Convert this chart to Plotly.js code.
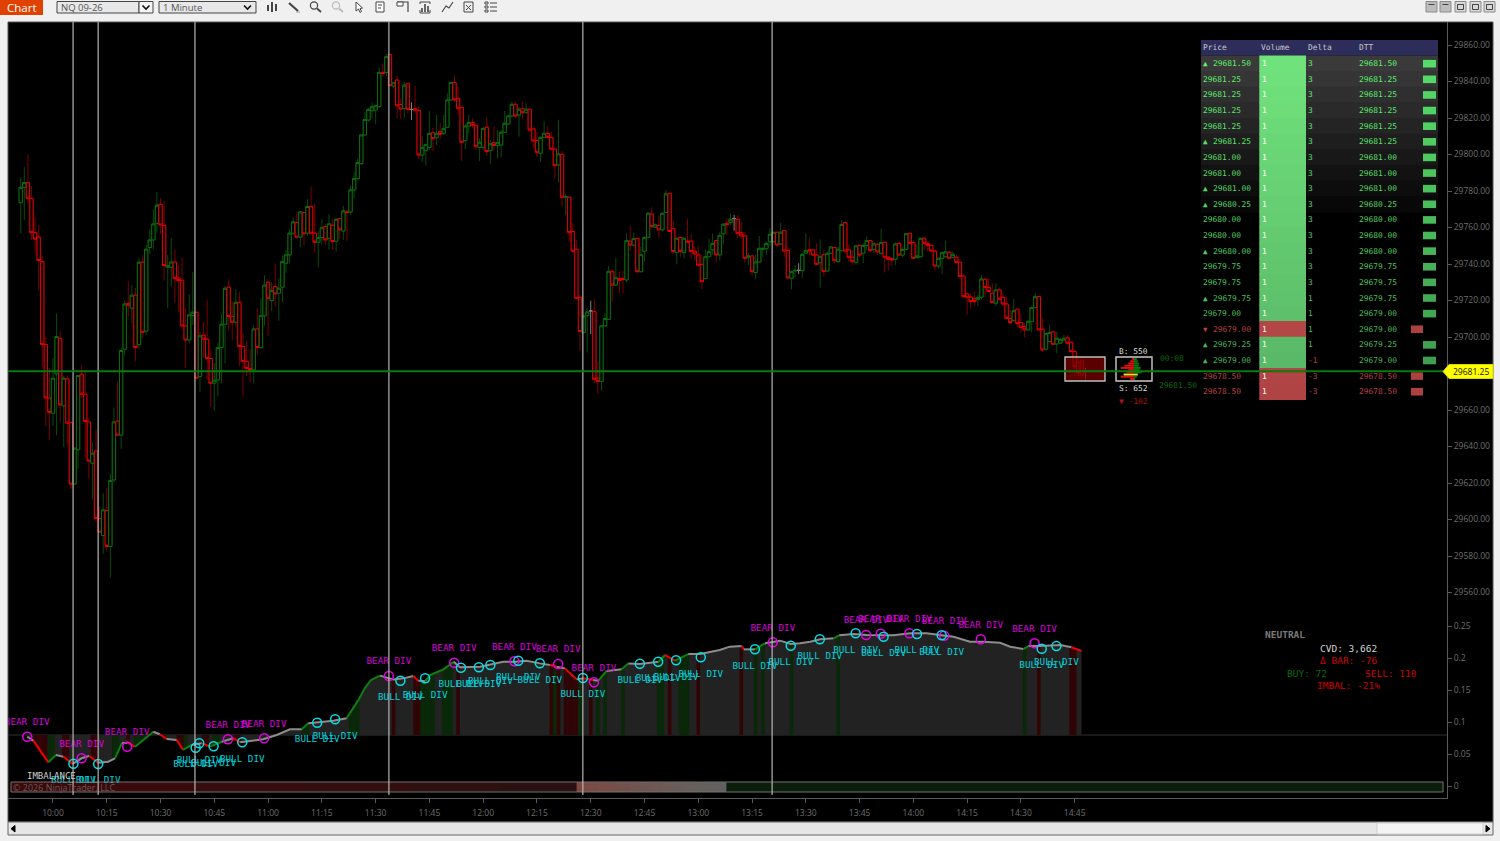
<!DOCTYPE html>
<html><head><meta charset="utf-8">
<script src="https://cdn.plot.ly/plotly-3.0.1.min.js"></script>
<style>html,body{margin:0;padding:0;background:#f0f0f0;overflow:hidden}#c{width:1500px;height:841px}</style>
</head><body><div id="c"></div>
<script>
// ---------- price bars: one row of ten per line ----------
const bar_first_minute = 591; // 09:51
const bar_open = [29773.6,29782.0,29784.6,29776.0,29757.2,29754.7,29741.3,29695.9,29666.5,29658.2,
29679.8,29699.3,29662.3,29677.1,29653.1,29619.4,29638.2,29679.6,29668.7,29653.5,
29630.9,29637.6,29600.5,29591.2,29604.9,29585.2,29621.7,29653.9,29646.2,29693.3,
29718.5,29715.8,29722.9,29695.9,29741.0,29703.2,29749.0,29753.2,29762.3,29772.7,
29761.2,29738.2,29738.2,29741.1,29732.4,29731.1,29706.1,29698.4,29711.7,29713.6,
29678.3,29701.0,29698.8,29688.2,29674.7,29676.5,29694.2,29707.0,29727.3,29711.2,
29708.1,29719.0,29694.8,29686.7,29682.7,29682.0,29704.4,29694.2,29711.6,29730.0,
29720.0,29727.6,29724.0,29727.3,29740.4,29745.0,29756.9,29762.7,29754.7,29768.2,
29756.9,29771.5,29756.9,29751.9,29754.5,29760.5,29754.1,29761.2,29752.5,29764.9,
29758.1,29768.5,29768.5,29780.6,29786.8,29795.1,29810.7,29818.9,29824.0,29824.4,
29826.2,29845.0,29845.0,29854.7,29837.5,29840.8,29827.4,29825.3,29838.8,29824.7,
29825.1,29824.2,29799.7,29802.1,29803.9,29812.0,29809.2,29812.5,29811.6,29814.9,
29829.9,29839.5,29830.8,29825.8,29807.6,29815.6,29817.6,29816.0,29803.9,29803.9,
29814.9,29802.1,29806.5,29804.9,29805.2,29812.2,29816.7,29821.1,29827.5,29821.7,
29825.1,29822.9,29824.8,29814.0,29807.6,29800.7,29809.4,29811.6,29809.4,29802.9,
29794.3,29800.1,29776.5,29776.6,29757.8,29748.1,29721.8,29702.4,29711.7,29714.3,
29713.9,29677.4,29675.6,29706.1,29709.7,29736.0,29728.4,29732.0,29732.0,29731.3,
29752.5,29750.4,29754.1,29735.8,29747.0,29754.6,29767.4,29760.1,29761.2,29758.7,
29768.2,29778.7,29759.4,29746.2,29754.5,29746.2,29752.5,29752.5,29747.0,29745.0,
29739.8,29732.0,29744.0,29747.7,29752.8,29745.0,29756.5,29762.3,29762.7,29764.9,
29764.5,29757.2,29755.4,29743.7,29744.4,29735.3,29741.1,29748.0,29748.4,29752.2,
29752.2,29757.4,29751.0,29758.3,29747.5,29732.2,29736.2,29736.5,29736.4,29745.9,
29747.7,29747.7,29744.9,29740.7,29745.1,29736.2,29745.9,29749.0,29741.3,29747.3,
29762.7,29747.7,29743.7,29740.9,29750.2,29745.9,29750.2,29752.8,29748.0,29750.8,
29745.9,29751.9,29743.7,29743.0,29742.6,29751.3,29744.9,29748.0,29756.8,29751.7,
29743.5,29744.0,29754.1,29751.3,29750.2,29747.1,29738.9,29743.1,29744.0,29746.4,
29743.7,29743.7,29740.9,29733.4,29723.6,29721.8,29721.2,29720.7,29721.8,29731.6,
29727.2,29723.9,29718.5,29725.8,29721.8,29718.1,29710.2,29709.0,29715.2,29707.9,
29705.7,29703.9,29708.4,29716.1,29722.1,29704.2,29693.3,29697.5,29702.8,29696.2,
29696.6,29698.4,29699.5,29697.1,29692.0,29686.0,29686.9,29681.25];
const bar_high = [29787.5,29793.0,29800.0,29782.8,29765.6,29761.2,29744.8,29699.9,29682.9,29688.4,
29713.0,29703.2,29678.7,29678.9,29653.7,29639.1,29678.9,29684.5,29682.0,29655.7,
29642.2,29649.1,29607.0,29614.4,29617.2,29625.0,29661.3,29675.6,29693.9,29720.0,
29730.9,29728.5,29726.9,29743.2,29744.8,29750.5,29759.0,29770.0,29779.5,29776.0,
29774.6,29745.0,29754.1,29747.7,29739.5,29743.5,29715.6,29723.6,29735.7,29713.6,
29702.6,29708.3,29720.3,29692.9,29685.6,29697.0,29712.7,29728.0,29731.6,29719.4,
29726.2,29724.7,29702.4,29697.7,29693.3,29706.3,29715.4,29721.2,29733.7,29730.7,
29730.0,29740.4,29732.2,29744.6,29747.7,29759.0,29765.2,29768.5,29768.9,29768.5,
29775.5,29782.4,29772.9,29757.8,29764.5,29762.0,29767.3,29764.9,29765.1,29765.1,
29771.8,29769.6,29782.8,29790.6,29797.9,29811.0,29823.4,29825.5,29828.6,29827.1,
29847.7,29849.9,29855.0,29854.7,29839.3,29843.0,29830.7,29839.9,29839.0,29828.6,
29837.5,29826.6,29810.1,29806.0,29823.8,29814.7,29821.7,29817.5,29821.7,29833.5,
29839.9,29843.2,29837.2,29825.8,29816.7,29821.7,29819.8,29816.7,29808.9,29815.3,
29820.4,29808.0,29815.3,29813.4,29813.4,29823.8,29821.7,29829.0,29829.0,29826.2,
29829.0,29828.0,29825.3,29815.3,29812.2,29809.8,29818.4,29815.6,29812.5,29803.4,
29818.9,29801.9,29778.4,29776.6,29762.3,29753.2,29723.1,29711.5,29715.7,29719.9,
29720.7,29686.5,29706.6,29713.0,29738.9,29736.4,29743.1,29735.8,29736.2,29756.8,
29760.8,29757.2,29754.1,29749.5,29755.0,29768.2,29771.1,29762.3,29766.5,29768.2,
29780.6,29778.7,29763.8,29754.1,29755.0,29754.5,29764.7,29756.5,29749.5,29750.1,
29745.0,29748.1,29754.1,29756.8,29753.5,29757.2,29762.3,29765.0,29767.8,29766.9,
29766.9,29763.2,29757.7,29745.9,29745.0,29745.0,29755.3,29748.6,29752.2,29759.5,
29757.4,29757.7,29762.6,29758.3,29749.1,29736.4,29739.5,29740.4,29745.9,29756.8,
29754.1,29748.0,29751.3,29753.5,29747.7,29746.8,29749.9,29749.5,29749.5,29764.1,
29762.7,29750.4,29747.7,29750.4,29750.8,29751.3,29755.0,29753.2,29752.2,29751.7,
29759.2,29751.9,29744.4,29743.7,29751.7,29751.9,29749.5,29757.2,29757.2,29752.8,
29751.0,29754.4,29754.6,29752.8,29750.8,29747.7,29743.7,29746.8,29752.8,29747.3,
29746.8,29744.9,29742.2,29734.0,29724.3,29723.9,29724.8,29723.0,29734.0,29732.7,
29732.2,29729.4,29729.4,29727.2,29723.9,29722.1,29714.8,29720.7,29715.2,29712.1,
29707.9,29709.0,29716.6,29723.9,29722.7,29710.2,29702.4,29706.6,29703.3,29702.9,
29699.3,29701.1,29701.1,29697.5,29692.5,29687.4,29687.8,29683.0];
const bar_low = [29756.8,29764.2,29772.9,29753.2,29745.9,29725.8,29683.8,29651.3,29643.6,29651.3,
29646.2,29653.5,29639.6,29640.9,29616.6,29619.4,29627.8,29666.5,29633.6,29622.5,
29611.1,29598.9,29593.1,29581.2,29582.5,29568.2,29620.3,29646.2,29638.7,29689.8,
29711.2,29707.5,29686.7,29693.5,29699.7,29701.2,29745.5,29748.1,29757.2,29756.5,
29730.9,29715.8,29727.6,29718.9,29713.9,29705.4,29683.3,29696.6,29706.6,29677.4,
29669.8,29688.4,29676.5,29661.5,29659.7,29667.4,29674.7,29685.6,29703.9,29698.1,
29705.7,29684.2,29667.4,29678.7,29674.7,29674.7,29690.7,29693.7,29706.3,29700.6,
29714.1,29716.7,29709.0,29718.9,29735.3,29740.4,29756.0,29753.9,29749.2,29749.9,
29755.4,29756.0,29746.3,29738.2,29750.8,29750.5,29748.1,29747.7,29746.8,29753.7,
29753.2,29752.8,29766.9,29776.0,29786.1,29794.2,29810.7,29818.0,29819.8,29816.7,
29825.8,29842.6,29843.0,29837.7,29836.2,29819.8,29819.2,29820.2,29822.5,29818.9,
29822.6,29797.5,29796.1,29793.9,29802.5,29801.9,29805.2,29808.3,29810.7,29814.7,
29829.5,29829.0,29821.7,29796.5,29802.9,29811.6,29814.3,29802.5,29796.5,29802.5,
29799.2,29794.8,29802.1,29797.9,29798.5,29812.0,29816.2,29820.4,29819.8,29809.8,
29819.5,29822.6,29812.5,29803.4,29798.5,29795.7,29808.9,29808.9,29802.5,29786.6,
29784.6,29771.4,29766.9,29752.3,29746.2,29721.2,29692.4,29702.4,29691.5,29701.7,
29674.7,29668.8,29670.5,29705.7,29709.3,29719.4,29728.0,29723.9,29723.9,29729.8,
29747.3,29749.5,29734.9,29735.3,29741.3,29754.1,29759.9,29759.6,29754.5,29757.8,
29767.8,29757.8,29745.5,29739.8,29743.7,29743.1,29751.7,29743.1,29741.9,29738.9,
29726.3,29731.6,29743.7,29745.0,29741.0,29741.9,29751.0,29756.3,29761.4,29758.3,
29754.1,29754.1,29740.7,29739.5,29733.4,29731.6,29740.7,29743.7,29744.9,29749.5,
29751.3,29749.0,29750.4,29744.0,29731.6,29726.1,29732.7,29734.5,29732.4,29745.9,
29744.9,29744.4,29739.5,29727.0,29733.1,29735.8,29745.5,29740.7,29740.7,29746.8,
29746.8,29741.3,29739.5,29739.5,29743.7,29740.4,29747.7,29746.8,29745.9,29744.9,
29744.9,29735.4,29736.4,29738.9,29739.5,29744.4,29743.7,29747.7,29751.0,29742.6,
29743.1,29743.7,29747.3,29746.8,29746.8,29736.4,29737.6,29734.5,29743.7,29742.6,
29743.1,29740.4,29732.7,29721.8,29712.1,29715.7,29717.0,29717.0,29720.7,29721.8,
29724.3,29718.5,29717.0,29720.3,29717.0,29709.7,29707.1,29708.4,29705.3,29702.4,
29699.8,29703.5,29702.4,29715.7,29703.5,29691.8,29692.5,29696.9,29695.6,29691.1,
29696.2,29697.5,29696.2,29691.4,29678.7,29678.3,29676.8,29676.7];
const bar_close = [29782.0,29784.6,29776.0,29757.2,29753.6,29741.9,29695.9,29666.6,29658.6,29677.4,
29700.2,29662.8,29677.4,29652.8,29619.4,29639.1,29678.9,29668.7,29653.7,29632.0,
29636.3,29600.5,29593.1,29605.3,29585.2,29621.4,29653.5,29646.2,29692.6,29718.1,
29717.4,29722.9,29694.2,29741.0,29702.6,29748.1,29753.2,29762.0,29772.2,29761.4,
29739.1,29739.1,29741.1,29732.0,29730.9,29706.1,29698.4,29712.1,29713.6,29677.4,
29700.6,29698.8,29688.2,29674.7,29676.3,29694.2,29707.0,29726.7,29711.2,29708.1,
29719.0,29694.8,29686.7,29682.7,29682.0,29704.4,29694.2,29711.7,29728.4,29721.2,
29725.4,29723.6,29726.7,29741.3,29745.0,29756.9,29763.1,29754.7,29768.5,29756.5,
29771.5,29756.9,29751.9,29754.5,29759.9,29753.2,29762.0,29752.3,29764.5,29758.7,
29769.1,29768.2,29780.6,29786.8,29795.6,29810.7,29819.2,29824.7,29826.2,29826.7,
29845.0,29844.4,29853.6,29837.7,29839.3,29826.7,29824.9,29838.0,29824.7,29824.7,
29824.4,29799.7,29803.9,29805.4,29811.6,29808.7,29811.6,29811.0,29814.3,29829.9,
29839.5,29829.9,29825.3,29806.7,29815.6,29817.5,29816.0,29804.3,29806.7,29814.3,
29801.6,29805.8,29804.9,29806.5,29812.2,29817.1,29821.1,29827.5,29821.1,29824.8,
29822.9,29824.8,29813.4,29807.4,29801.2,29809.4,29811.6,29809.4,29802.9,29793.9,
29800.3,29776.6,29776.9,29757.2,29747.0,29721.2,29703.0,29711.5,29713.7,29714.3,
29676.8,29675.6,29706.1,29710.1,29736.0,29728.5,29732.5,29730.9,29731.5,29752.8,
29750.4,29753.9,29735.8,29745.1,29754.6,29767.8,29760.5,29761.4,29758.7,29767.8,
29778.4,29757.8,29746.8,29754.1,29746.9,29754.1,29752.1,29746.8,29745.5,29739.3,
29730.3,29744.0,29746.8,29751.3,29745.0,29755.7,29761.8,29761.6,29764.5,29764.9,
29756.8,29755.4,29743.1,29744.4,29735.8,29741.1,29748.6,29748.6,29751.3,29756.3,
29757.4,29750.4,29757.4,29747.1,29732.4,29735.8,29736.5,29736.5,29745.3,29747.3,
29747.3,29744.9,29739.8,29744.0,29735.8,29745.9,29749.3,29741.8,29748.1,29761.7,
29747.1,29743.7,29741.3,29749.9,29744.9,29750.2,29752.8,29747.3,29751.0,29746.6,
29751.7,29743.7,29742.6,29742.2,29751.0,29744.9,29748.0,29756.6,29751.3,29743.1,
29744.4,29754.1,29751.3,29750.2,29747.1,29738.9,29743.1,29746.2,29746.6,29743.1,
29745.3,29740.9,29733.1,29722.1,29721.8,29719.4,29719.4,29721.6,29731.8,29727.2,
29724.9,29718.8,29725.8,29720.7,29718.1,29710.2,29707.9,29714.4,29707.5,29705.3,
29703.9,29708.6,29716.1,29722.1,29703.9,29692.9,29702.0,29702.4,29696.0,29699.3,
29698.7,29699.3,29696.6,29692.0,29683.8,29680.1,29679.2,29681.25];
const price_ticks = [29560,29580,29600,29620,29640,29660,29700,29720,29740,29760,29780,29800,29820,29840,29860];
const last_price = 29681.25;
const time_ticks = [600,615,630,645,660,675,690,705,720,735,750,765,780,795,810,825,840,855,870,885];
const time_labels = ['10:00','10:15','10:30','10:45','11:00','11:15','11:30','11:45','12:00','12:15','12:30','12:45','13:00','13:15','13:30','13:45','14:00','14:15','14:30','14:45'];
const marker_minutes = [605.6,612.6,639.6,693.7,747.8,800.6];

// ---------- lower panel ----------
const panel_ticks = [0,0.05,0.1,0.15,0.2,0.25];
const cvd_baseline = 0.0797;
const cvd_t = [592.8,594.5,598.7,600.8,602.9,605.5,608,610.1,612.6,615.4,617.3,619.2,620.8,622.9,628,629.8,631.7,634.5,636.3,638.7,641.5,643.8,647.1,650.3,652.2,658.7,662.4,666.1,669.4,671.2,678.2,681.9,685.2,687,688.7,691.2,694.9,697.7,700.5,701.9,703.8,705.2,708.9,711.8,713.5,719.1,721.9,725.6,728.9,732.1,735.8,738.6,740.5,742.8,746.1,747.9,750.7,752.1,754.4,758.6,760.5,763.7,768.9,770.7,773.5,777.2,780.5,786,788.8,792.1,792.7,795.8,798.6,800.7,802.8,805.8,808.4,811.2,814,817.7,819.3,823.3,827,830.7,834.4,839.1,843.7,847.4,851.2,855.8,859.5,864.2,867,870.7,872.1,875.3,881,884.1,886.9];
const cvd_v = [.0770,.0708,.0370,.0484,.0458,.0344,.0433,.0469,.0364,.0380,.0433,.0667,.0677,.0614,.0848,.0808,.0734,.0719,.0563,.0641,.0667,.0614,.0692,.0745,.0683,.0730,.0797,.0886,.0886,.0980,.1020,.1058,.1344,.153,.1656,.1724,.1666,.1682,.1718,.1645,.164,.1734,.1823,.1942,.1854,.1864,.1901,.1942,.1942,.1958,.1916,.189,.1864,.1838,.1666,.1682,.1656,.1645,.1797,.1823,.1916,.1906,.1942,.2047,.1958,.2062,.2062,.2125,.2177,.2187,.2135,.2135,.2229,.2255,.2271,.2219,.2229,.2255,.2292,.2307,.2354,.2375,.2359,.2354,.2354,.2385,.2385,.2359,.2333,.2255,.2255,.2239,.2177,.214,.2187,.2187,.2203,.2167,.2109];
const cvd_state = ('nrgnrnnrnngnrgnrnrgnrgnrnnnngnngggg'+'nnnrngggnnnnnnnnrnrnrngngnngrgnnn'+'nrngn'+'nnnnnng'+'nnnnnnnnnnnnn'+'gnnnrn').split('');
const stripe_t = [595,596,597,598,599,600,603,604,611,612,617,618,621,623,624,625,626,627,630,631,635,636,637,642,643,645,646,651,652,670,671,683,684,685,695,701,702,703,704,705,706,709,710,711,713,739,740,741,743,744,745,746,747,750,752,754,759,769,770,772,775,776,777,780,792,796,798,806,819,871,875,884,885];
const stripe_v = [.069,.058,.048,.040,.039,.044,.045,.040,.044,.038,.043,.055,.067,.062,.066,.071,.075,.080,.080,.075,.068,.058,.059,.066,.063,.065,.068,.072,.069,.092,.097,.112,.125,.134,.167,.168,.164,.164,.165,.172,.175,.183,.187,.191,.186,.188,.187,.186,.182,.176,.171,.167,.168,.166,.165,.178,.184,.195,.202,.2,.2,.203,.206,.206,.215,.214,.222,.222,.235,.216,.218,.216,.215];
const stripe_kind = ('rrrrgg'+'rr'+'rr'+'gg'+'r'+'ggggg'+'rr'+'rr'+'g'+'rr'+'gg'+'rr'+'gg'+'ggg'+'r'+'rr'+'ggg'+'g'+'ggg'+'r'+'r'+'g'+'r'+'rrrr'+'g'+'r'+'g'+'g'+'g'+'gg'+'r'+'ggg'+'r'+'r'+'g'+'g'+'g'+'g'+'g'+'r'+'rr').split('');
const bear_t = [592.8,608.0,620.7,648.8,658.9,693.7,711.9,728.7,740.9,750.9,800.8,826.8,830.9,838.9,848.6,858.8,873.8];
const bear_v = [.0770,.0433,.0614,.0730,.0745,.1719,.1927,.1948,.1906,.1620,.2245,.2359,.2380,.2386,.2348,.2292,.2230];
const bull_t = [605.7,612.6,639.8,640.8,644.8,652.8,673.7,678.7,696.9,703.8,713.8,718.8,722.0,729.8,735.8,747.8,763.7,768.8,773.8,780.7,795.8,805.8,813.9,823.9,831.7,841.0,847.9,875.8,879.9];
const bull_v = [.0348,.0344,.0598,.0667,.0620,.0683,.0989,.1042,.1645,.1683,.1848,.1855,.1891,.1958,.1917,.1688,.1911,.1942,.1964,.2011,.2136,.2192,.2292,.2386,.2333,.2375,.2355,.2145,.2188];
const heat_start = [588.3,615,640,670,700,725,746.2,749,752,755,758,761,764,767,770,773,776,779,782,785,788];
const heat_end =   [615,640,670,700,725,746.2,749,752,755,758,761,764,767,770,773,776,779,782,785,788,987.7];
const heat_color = ['#3e0808','#3a0a0a','#360c0c','#320e0e','#2e1010','#2a1010','#7c4a40','#7a4c42','#784e46','#765048','#74524c','#72544e','#705650','#6e5852','#6c5a55','#6a5c58','#685e5a','#66605c','#64605e','#626060','#0a1f0a'];

// ---------- time & sales tape ----------
const tape_dir = ['▲','','','','','▲','','','▲','▲','','','▲','','','▲','','▼','▲','▲','',''];
const tape_price = ['29681.50','29681.25','29681.25','29681.25','29681.25','29681.25','29681.00','29681.00','29681.00','29680.25','29680.00','29680.00','29680.00','29679.75','29679.75','29679.75','29679.00','29679.00','29679.25','29679.00','29678.50','29678.50'];
const tape_volume = [1,1,1,1,1,1,1,1,1,1,1,1,1,1,1,1,1,1,1,1,1,1];
const tape_delta = [3,3,3,3,3,3,3,3,3,3,3,3,3,3,3,1,1,1,1,-1,-3,-3];
const tape_dtt = ['29681.50','29681.25','29681.25','29681.25','29681.25','29681.25','29681.00','29681.00','29681.00','29680.25','29680.00','29680.00','29680.00','29679.75','29679.75','29679.75','29679.00','29679.00','29679.25','29679.00','29678.50','29678.50'];
const tape_side = [1,1,1,1,1,1,1,1,1,1,1,1,1,1,1,1,1,-1,1,1,-1,-1];
const tape_columns = ['Price','Volume','Delta','DTT'];
const row_shade = ['#3a3a3a','#353535','#2f2f2f','#2a2a2a','#242424','#1e1e1e','#181818','#121212','#0d0d0d','#080808'];

// ---------- footprint box ----------
const profile_row = [0,1,2,3,4,5,6,7,8,9];
const profile_sell = [-4,-14,-11,-8,-6,-14,-10,-6,-4,-2];
const profile_buy = [1,3,4,8,6,7,5,5,4,3];

// ---------- helpers ----------
const W=1500,Ht=841,px=x=>x/W,py=y=>1-y/Ht;
const MONO='"DejaVu Sans Mono",monospace',SANS='"Open Sans","Noto Sans",sans-serif';
const shapes=[],anns=[];
function rect(x0,y0,x1,y1,fill,line,layer,lw){shapes.push({type:'rect',xref:'paper',yref:'paper',x0:px(x0),x1:px(x1),y0:py(y1),y1:py(y0),fillcolor:fill||'rgba(0,0,0,0)',line:{color:line||'rgba(0,0,0,0)',width:line?(lw||1):0},layer:layer||'below'});}
function poly(pts,color,width,fill,layer,close){shapes.push({type:'path',xref:'paper',yref:'paper',path:pts.map((p,i)=>(i?'L':'M')+px(p[0])+','+py(p[1])).join(' ')+(close?' Z':''),line:{color:color,width:width||1},fillcolor:fill||'rgba(0,0,0,0)',layer:layer||'below'});}
function circ(cx,cy,r,color){shapes.push({type:'circle',xref:'paper',yref:'paper',x0:px(cx-r),x1:px(cx+r),y0:py(cy+r),y1:py(cy-r),line:{color:color,width:1.2},layer:'below'});}
function txt(x,y,t,color,size,anchor,family){anns.push({xref:'paper',yref:'paper',x:px(x),y:py(y),text:t,showarrow:false,xanchor:anchor||'left',yanchor:'middle',font:{color:color,size:size,family:family||MONO},borderpad:0,borderwidth:0});}
function mix(a,b,t){return 'rgb('+a.map((v,i)=>Math.round(v+(b[i]-v)*t)).join(',')+')';}

// ---------- window chrome ----------
rect(8,22,1493,822,'#000','#555');
rect(8,822,1493,835,'#e6e6e6','#666');
rect(1377,823,1483,834,'#f4f4f4','#d0d0d0');
poly([[15,825.5],[15,832],[11,828.7]],'#000',1,'#000','below',true);
poly([[1486,825.5],[1486,832],[1490,828.7]],'#000',1,'#000','below',true);
rect(0,0,43,15,'#e04000');
txt(22,7.5,'Chart','#ffffff',11.5,'center',SANS);
rect(57,1.5,139,13,'#e8e8e8','#444'); rect(139,1.5,153,13,'#f4f4f4','#444');
rect(159,1.5,256,13,'#e8e8e8','#444');
txt(61,7.5,'NQ 09-26','#555',9.5,'left',SANS); txt(163,7.5,'1 Minute','#555',9.5,'left',SANS);
poly([[142.5,5.5],[146,9],[149.5,5.5]],'#111',1.6); poly([[244,5.5],[247.5,9],[251,5.5]],'#111',1.6);
const ic='#444';
[[268,5,11],[272,2,12],[276,4,11]].forEach(b=>poly([[b[0],b[1]],[b[0],b[2]]],ic,2));
poly([[289,3],[298,11]],ic,2.2); poly([[296,12],[300,12]],'#999',1);
circ(314,5.5,3.6,ic); poly([[317,8.5],[321,12]],ic,1.8);
circ(336,5.5,3.6,'#bbb'); poly([[339,8.5],[343,12]],'#bbb',1.8);
poly([[356,2],[356,11],[358.5,9],[360,12.5],[361.5,11.5],[360,8.5],[362.5,8]],ic,1,'#fff','below',true);
rect(376,2,384,12,'#fff',ic); poly([[378,5],[382,5]],ic,1); poly([[378,8],[381,8]],ic,1);
poly([[397,2],[408,2],[408,12]],ic,1.2); rect(397,2,403,6,'#fff',ic);
[[422,8,12],[425,4,12],[428,6,12]].forEach(b=>poly([[b[0],b[1]],[b[0],b[2]]],ic,1.6));
poly([[420,4],[420,2],[430,2],[430,4]],ic,1); poly([[420,10],[420,13],[430,13],[430,10]],ic,1);
poly([[442,12],[446,6],[449,8],[453,2]],ic,1.1);
rect(464,2,473,12,'#eee',ic); poly([[466,5],[471,10]],ic,1); poly([[471,5],[466,10]],ic,1);
[3,7,11].forEach(y=>{rect(485,y-1,488,y+1,'#fff',ic);poly([[490,y],[497,y]],ic,1);});
[1426,1440,1455,1470,1484].forEach((x,i)=>{rect(x,1.5,x+11,12,i<2?'#bdbdbd':'#d8d8d8','#8a8a8a');poly([[x+2.5,4.5],[x+8.5,4.5]],'#444',1);if(i>1)rect(x+2.5,4.5,x+8.5,9.5,null,'#444');});

// ---------- tape table ----------
rect(1201,40,1438,55.5,'#2d2d5c');
[1203,1261,1308,1359].forEach((x,i)=>txt(x,47.5,tape_columns[i],'#c8c8c8',7.9));
tape_price.forEach((p,i)=>{
  const cy=63.7+i*15.62;
  if(i<row_shade.length)rect(1201,cy-8.2,1438,cy+8.2,row_shade[i]);
});
tape_price.forEach((p,i)=>{
  const cy=63.7+i*15.62,t=i/21,buy=tape_side[i]>0;
  rect(1259.3,cy-8.2,1306,cy+8.2,buy?mix([112,226,124],[88,181,102],t):mix([190,82,82],[176,68,68],t));
  const sq=buy?mix([85,220,105],[60,150,75],t):'#ad4040';
  if(buy)rect(1423,cy-3.8,1436,cy+3.8,sq); else rect(1411,cy-3.8,1423,cy+3.8,sq);
  const g=mix([95,240,110],[70,175,85],t),r='#bb4040',tc=buy?g:r;
  if(tape_dir[i]){txt(1205.5,cy,tape_dir[i],tc,7.5,'center');txt(1213,cy,p,tc,7.9);}
  else txt(1203,cy,p,tc,7.9);
  txt(1261.5,cy,String(tape_volume[i]),'#ffffff',7.9);
  txt(1308,cy,String(tape_delta[i]),tape_delta[i]<0?r:g,7.9);
  txt(1359,cy,tape_dtt[i],(tape_delta[i]<0&&!buy)?r:g,7.9);
});

// ---------- footprint boxes & readouts ----------
rect(1116,357,1152,381,'#2a0000','#c8c8c8','below',1.4);
shapes.push({type:'rect',xref:'paper',yref:'paper',x0:px(1065),x1:px(1105),y0:py(381),y1:py(357),fillcolor:'rgba(125,0,0,0.72)',line:{color:'#bdbdbd',width:1.4},layer:'above'});
txt(1133.5,351,'B: 550','#dcdcdc',7.9,'center'); txt(1133.5,388,'S: 652','#dcdcdc',7.9,'center');
txt(1133.5,401,'▼ -102','#b01010',7.9,'center');
txt(1172,358,'00:08','#0b6a0b',7.9,'center'); txt(1178,385,'29681.50','#0b6a0b',7.9,'center');
txt(1285,634.5,'<b>NEUTRAL</b>','#7a7a7a',9.5,'center');
txt(1348,648,'CVD: 3,662','#d2d2d2',9.5,'center'); txt(1348,660.7,'Δ BAR: -76','#d00000',9.5,'center');
txt(1306.5,673.3,'BUY: 72','#0a6a0a',9.5,'center'); txt(1391,673.3,'SELL: 110','#d00000',9.5,'center');
txt(1348,685.7,'IMBAL: -21%','#d00000',9.5,'center');
txt(51,775.5,'IMBALANCE','#cfcfcf',9,'center');
txt(13,787,'© 2026 NinjaTrader, LLC','#5e5e5e',9,'left',SANS);

// ---------- lines tied to the axes ----------
shapes.push({type:'line',xref:'paper',yref:'y3',x0:px(8),x1:px(1447),y0:cvd_baseline,y1:cvd_baseline,line:{color:'#333',width:1.2},layer:'below'});
rect(11,782,1443,792,null,'#707070','above');
marker_minutes.forEach(m=>shapes.push({type:'line',xref:'x',yref:'paper',x0:m,x1:m,y0:py(795),y1:py(22),line:{color:'#b4b4b4',width:1.2},layer:'above'}));
shapes.push({type:'line',xref:'paper',yref:'y',x0:px(8),x1:px(1447),y0:last_price,y1:last_price,line:{color:'#0a7a0a',width:2},layer:'above'});
poly([[1443,371.5],[1449,364.5],[1493,364.5],[1493,378.5],[1449,378.5]],'#d8d800',1,'#ffff00','above',true);
txt(1471,371.5,last_price.toFixed(2),'#111',8.5,'center',SANS);

// ---------- traces ----------
const bar_t = bar_open.map((_,i)=>bar_first_minute+i);
const isDoji = i=>bar_open[i]===bar_close[i];
const regular = bar_t.map((_,i)=>i).filter(i=>!isDoji(i));
const doji = bar_t.map((_,i)=>i).filter(isDoji);
const pick=(a,ix)=>ix.map(i=>a[i]);
const hiBody=bar_open.map((o,i)=>Math.max(o,bar_close[i])), loBody=bar_open.map((o,i)=>Math.min(o,bar_close[i]));
const candle=(ix,hi,lo,up,dn,fill)=>({type:'candlestick',x:pick(bar_t,ix),open:pick(bar_open,ix),close:pick(bar_close,ix),high:pick(hi,ix),low:pick(lo,ix),xaxis:'x',yaxis:'y',whiskerwidth:0,
  increasing:{line:{color:up,width:1},fillcolor:fill},decreasing:{line:{color:dn,width:1},fillcolor:fill},showlegend:false,hoverinfo:'skip'});
const traces=[
  candle(regular,bar_high,bar_low,'#0b4a0b','#7a0000','#000'),
  candle(regular,hiBody,loBody,'#0d6e0d','#e60000','#000'),
  candle(doji,bar_high,bar_low,'#808080','#808080','#000'),
  {type:'scatter',mode:'lines',x:cvd_t,y:cvd_t.map(()=>cvd_baseline),xaxis:'x',yaxis:'y2',line:{width:0},hoverinfo:'skip'},
  {type:'scatter',mode:'lines',x:cvd_t,y:cvd_v,xaxis:'x',yaxis:'y2',fill:'tonexty',fillcolor:'#222222',line:{width:0},hoverinfo:'skip'},
  {type:'bar',x:stripe_t,y:stripe_v.map(v=>v-cvd_baseline),base:stripe_t.map(()=>cvd_baseline),width:stripe_t.map(()=>1),xaxis:'x',yaxis:'y3',
    marker:{color:stripe_kind.map(k=>k==='r'?'#300404':'#082808'),line:{width:0}},hoverinfo:'skip'},
  {type:'bar',x:heat_start.map((s,i)=>(s+heat_end[i])/2),y:heat_start.map(()=>0.0156),base:heat_start.map(()=>-0.0094),width:heat_start.map((s,i)=>heat_end[i]-s+0.3),xaxis:'x',yaxis:'y3',
    marker:{color:heat_color,line:{width:0}},hoverinfo:'skip'}
];
const cvdColor={n:'#8c8c8c',r:'#f00000',g:'#0d800d'};
let start=0;
for(let i=1;i<cvd_t.length;i++){
  if(i===cvd_t.length-1||cvd_state[i]!==cvd_state[start]){
    traces.push({type:'scatter',mode:'lines',x:cvd_t.slice(start,i+1),y:cvd_v.slice(start,i+1),xaxis:'x',yaxis:'y4',line:{color:cvdColor[cvd_state[start]]||'#8c8c8c',width:2},hoverinfo:'skip'});
    start=i;
  }
}
const lblShift={bear:14/640,bull:-17/640};
traces.push(
  {type:'scatter',mode:'markers',x:bear_t,y:bear_v,xaxis:'x',yaxis:'y4',marker:{symbol:'circle-open',size:9,color:'#e400e4',line:{width:1.5,color:'#e400e4'}},hoverinfo:'skip'},
  {type:'scatter',mode:'markers',x:bull_t,y:bull_v,xaxis:'x',yaxis:'y4',marker:{symbol:'circle-open',size:9,color:'#00e0e6',line:{width:1.5,color:'#00e0e6'}},hoverinfo:'skip'},
  {type:'scatter',mode:'text',x:bear_t,y:bear_v.map(v=>v+lblShift.bear),text:bear_t.map(()=>'BEAR DIV'),textposition:'middle center',xaxis:'x',yaxis:'y4',textfont:{family:MONO,size:9.3,color:'#d800d8'},hoverinfo:'skip'},
  {type:'scatter',mode:'text',x:bull_t,y:bull_v.map(v=>v+lblShift.bull),text:bull_t.map(()=>'BULL DIV'),textposition:'middle center',xaxis:'x',yaxis:'y4',textfont:{family:MONO,size:9.3,color:'#00d0da'},hoverinfo:'skip'},
  {type:'bar',orientation:'h',y:profile_row,x:profile_sell,xaxis:'x2',yaxis:'y5',width:profile_row.map(()=>0.9),marker:{color:profile_row.map(r=>r===2?'#e6e61e':'#e01010'),line:{width:0}},hoverinfo:'skip'},
  {type:'bar',orientation:'h',y:profile_row,x:profile_buy,xaxis:'x2',yaxis:'y5',width:profile_row.map(()=>0.9),marker:{color:profile_row.map(r=>r===2?'#e6e61e':'#0b7a0b'),line:{width:0}},hoverinfo:'skip'}
);

const tickFont={family:SANS,size:8.5,color:'#6e6e6e'};
const yDomain=[py(798),py(22)];
const panelRange=[-0.01875,1.19375];
const hiddenY={overlaying:'y',domain:yDomain,range:panelRange,visible:false,anchor:'x',side:'right',fixedrange:true};
const layout={
  width:W,height:Ht,margin:{l:0,r:0,t:0,b:0,pad:0},paper_bgcolor:'#f0f0f0',plot_bgcolor:'#000',showlegend:false,
  barmode:'overlay',boxgap:0.08,boxgroupgap:0,
  xaxis:{domain:[px(8),px(1447)],range:[587.45,988.85],tickmode:'array',tickvals:time_ticks,ticktext:time_labels,showgrid:false,zeroline:false,showline:true,linecolor:'#5a5a5a',linewidth:1,ticks:'outside',ticklen:4,tickcolor:'#5a5a5a',tickfont:tickFont,rangeslider:{visible:false},anchor:'y',ticklabelstandoff:3,fixedrange:true},
  yaxis:{domain:yDomain,range:[29447.4,29872.6],side:'right',anchor:'x',tickmode:'array',tickvals:price_ticks,ticktext:price_ticks.map(v=>v.toFixed(2)),showgrid:false,zeroline:false,showline:true,linecolor:'#5a5a5a',linewidth:1,ticks:'outside',ticklen:4,tickcolor:'#5a5a5a',tickfont:tickFont,ticklabelstandoff:0,fixedrange:true},
  yaxis2:{overlaying:'y',domain:yDomain,range:panelRange,side:'right',anchor:'x',tickmode:'array',tickvals:panel_ticks,ticktext:panel_ticks.map(String),showgrid:false,zeroline:false,showline:false,ticks:'outside',ticklen:4,tickcolor:'#5a5a5a',tickfont:tickFont,ticklabelstandoff:0,fixedrange:true},
  yaxis3:hiddenY,yaxis4:hiddenY,
  xaxis2:{domain:[px(1117),px(1151)],range:[-18,18],visible:false,anchor:'y5',fixedrange:true},
  yaxis5:{domain:[py(380),py(358)],range:[-0.5,9.5],visible:false,anchor:'x2',fixedrange:true},
  shapes:shapes,annotations:anns,hovermode:false
};
Plotly.newPlot('c',traces,layout,{displayModeBar:false,staticPlot:true});
</script></body></html>
